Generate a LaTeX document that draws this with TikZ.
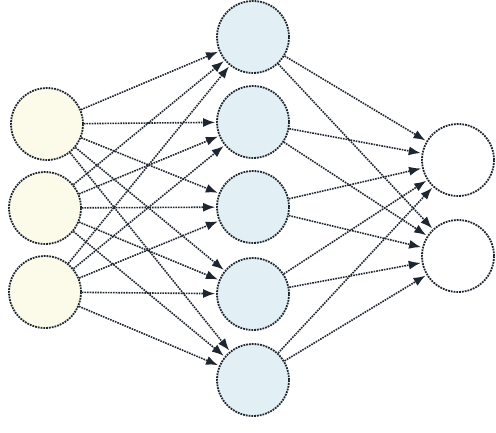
\documentclass[tikz,border=0pt]{standalone}
\usetikzlibrary{arrows.meta}
\definecolor{inyel}{HTML}{FCFBEA}
\definecolor{hidblue}{HTML}{E2EFF5}
\definecolor{edgec}{HTML}{1E2630}
\begin{document}
\begin{tikzpicture}[x=1pt,y=-1pt,
  neuron/.style={circle, minimum size=72pt, inner sep=0pt, draw=edgec, line width=1.8pt, densely dotted},
  inneuron/.style={neuron, fill=inyel},
  hidneuron/.style={neuron, fill=hidblue},
  outneuron/.style={neuron, fill=white},
  conn/.style={draw=edgec, line width=1.6pt, densely dotted, -{Latex[length=12pt,width=9pt]}, shorten >=1pt}
]
\useasboundingbox[fill=white] (0,0) rectangle (496,432);
\node[inneuron] (i1) at (47,124) {};
\node[inneuron] (i2) at (45,208) {};
\node[inneuron] (i3) at (45,292) {};
\node[hidneuron] (h1) at (253,37) {};
\node[hidneuron] (h2) at (253,122) {};
\node[hidneuron] (h3) at (253,207) {};
\node[hidneuron] (h4) at (253,294) {};
\node[hidneuron] (h5) at (253,380) {};
\node[outneuron] (o1) at (458,160) {};
\node[outneuron] (o2) at (458,256) {};
\foreach \i in {1,2,3}{
  \foreach \h in {1,...,5}{
    \draw[conn] (i\i) -- (h\h);
  }
}
\foreach \h in {1,...,5}{
  \foreach \o in {1,2}{
    \draw[conn] (h\h) -- (o\o);
  }
}
\end{tikzpicture}
\end{document}
